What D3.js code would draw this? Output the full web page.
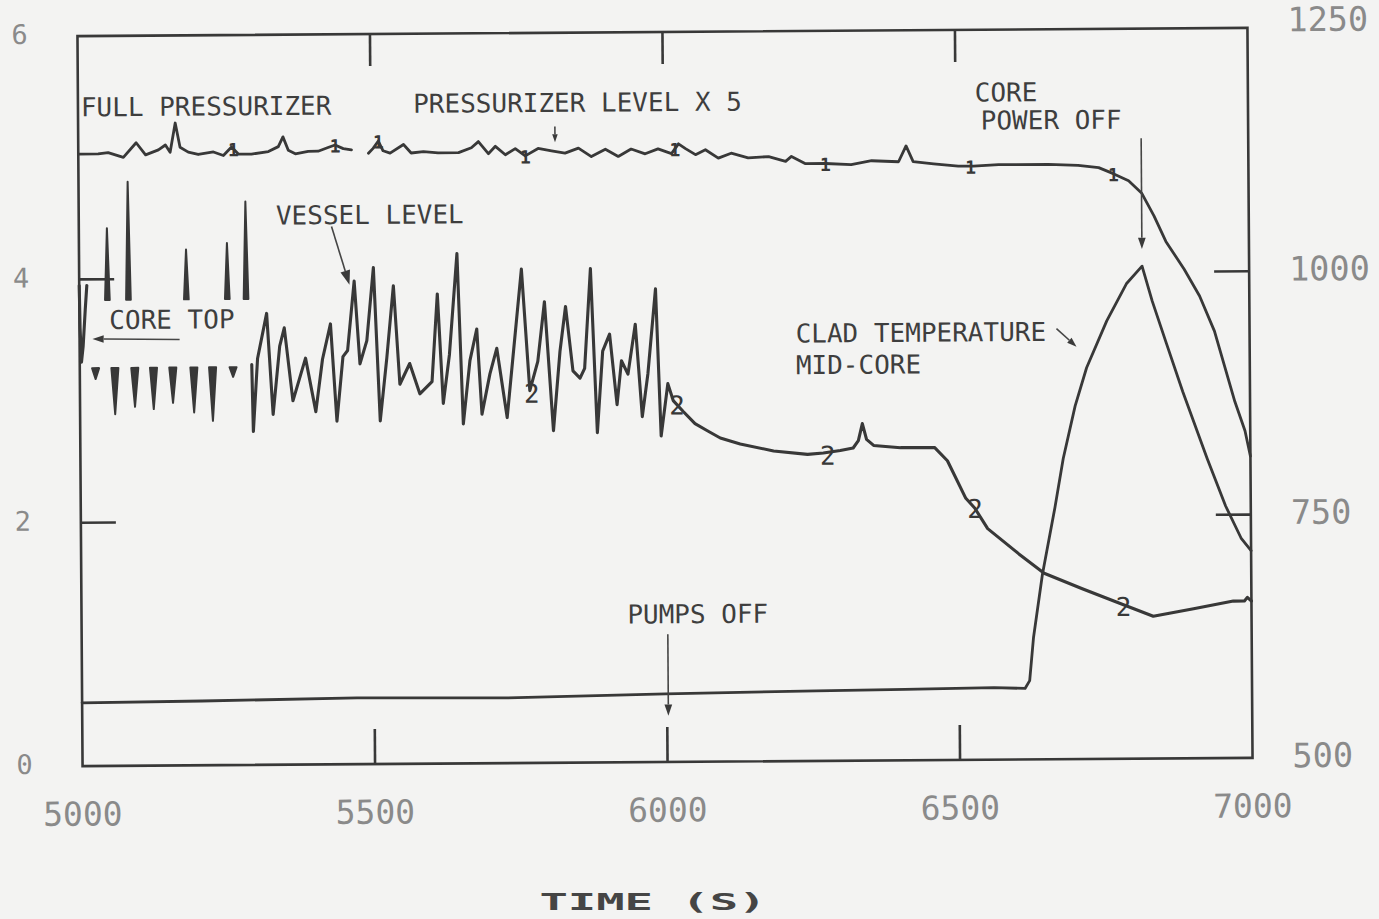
<!DOCTYPE html>
<html>
<head>
<meta charset="utf-8">
<script src="https://cdn.jsdelivr.net/npm/d3@7"></script>
<style>
  html, body { margin: 0; padding: 0; background: #f3f3f2; }
  svg { display: block; }
</style>
</head>
<body>
<script>
// ---- axis ticks ----
const timeTicks = [5000, 5500, 6000, 6500, 7000];
const levelTicks = [0, 2, 4, 6];
const tempTicks = [500, 750, 1000, 1250];

// ---- curve 1: pressurizer level x 5 (null = pen lift) ----
const pressTime = [5000, 5034, 5051, 5077, 5099, 5115, 5137, 5149, 5157, 5166, 5174, 5188, 5205, 5231, 5248, 5262,
  5274, 5296, 5325, 5342, 5350, 5359, 5371, 5393, 5410, 5427, 5439, 5453, 5467, 5480, 5496, 5504, 5513, 5521,
  5533, 5556, 5569, 5590, 5615, 5650, 5672, 5684, 5701, 5713, 5730, 5747, 5764, 5786, 5809, 5832, 5855, 5877,
  5901, 5923, 5945, 5969, 5991, 6014, 6026, 6038, 6055, 6072, 6094, 6116, 6145, 6180, 6209, 6219, 6243, 6277,
  6321, 6356, 6402, 6415, 6427, 6462, 6504, 6530, 6573, 6658, 6709, 6744, 6769, 6795, 6817, 6838, 6858, 6889,
  6915, 6940, 6957, 6974, 6991, 7000];
const pressLevel = [5.03, 5.03, 5.04, 5.00, 5.12, 5.02, 5.06, 5.10, 5.04, 5.28, 5.08, 5.04, 5.02, 5.04, 5.01, 5.08,
  5.02, 5.02, 5.04, 5.08, 5.16, 5.05, 5.02, 5.04, 5.04, 5.07, 5.09, 5.06, 5.05, null, 5.02, 5.06, 5.12, 5.04,
  5.02, 5.09, 5.02, 5.03, 5.02, 5.02, 5.06, 5.11, 5.01, 5.07, 5.00, 5.05, 4.99, 5.05, 5.03, 5.01, 5.05, 4.98,
  5.04, 4.98, 5.04, 5.00, 5.04, 5.00, 5.08, 5.04, 4.99, 5.03, 4.96, 5.00, 4.96, 4.97, 4.93, 4.97, 4.91, 4.91,
  4.90, 4.93, 4.92, 5.05, 4.92, 4.90, 4.88, 4.88, 4.89, 4.89, 4.88, 4.86, 4.81, 4.75, 4.65, 4.46, 4.25, 4.02,
  3.80, 3.51, 3.22, 2.93, 2.69, 2.48];

// ---- curve 2: vessel level (null = pen lift) ----
const vesselTime = [5000, 5001, 5003, 5006, 5010, 5013, 5016,
  5294, 5296, 5304, 5320, 5330, 5342, 5350, 5364, 5386, 5403, 5415, 5429, 5439, 5450, 5458, 5470, 5479, 5491,
  5503, 5513, 5525, 5537, 5547, 5564, 5581, 5602, 5612, 5621, 5632, 5646, 5655, 5667, 5679, 5687, 5701, 5713,
  5730, 5756, 5769, 5783, 5795, 5809, 5821, 5831, 5843, 5855, 5863, 5874, 5884, 5894, 5906, 5918, 5926, 5937,
  5950, 5961, 5971, 5985, 5993, 6005, 6014, 6031, 6051, 6072, 6094, 6128, 6185, 6243, 6270, 6299, 6321, 6330,
  6337, 6344, 6356, 6402, 6460, 6482, 6513, 6528, 6550, 6603, 6646, 6711, 6779, 6832, 6901, 6969, 6988, 6993, 7000];
const vesselLevel = [3.95, 3.60, 3.32, 3.45, 3.75, 3.95, null,
  3.29, 2.74, 3.34, 3.71, 2.88, 3.44, 3.59, 2.99, 3.34, 2.90, 3.33, 3.62, 2.82, 3.35, 3.40, 3.97, 3.29, 3.48,
  4.08, 2.82, 3.34, 3.93, 3.12, 3.29, 3.04, 3.14, 3.86, 2.96, 3.36, 4.19, 2.79, 3.31, 3.57, 2.87, 3.20, 3.41,
  2.84, 4.06, 3.06, 3.30, 3.79, 2.73, 3.38, 3.75, 3.22, 3.16, 3.24, 4.06, 2.71, 3.38, 3.52, 2.94, 3.30, 3.19,
  3.60, 2.84, 3.19, 3.89, 2.68, 3.11, 2.97, 2.88, 2.78, 2.72, 2.66, 2.61, 2.55, 2.52, 2.53, 2.55, 2.57, 2.63,
  2.77, 2.64, 2.59, 2.57, 2.57, 2.46, 2.15, 2.07, 1.90, 1.69, 1.53, 1.40, 1.27, 1.17, 1.23, 1.29, 1.29, 1.32, 1.29];

// vessel level excursions plotted only past the core-top band
const vesselUpBase = 3.83;
const vesselUpTime = [5048, 5084, 5183, 5253, 5285];
const vesselUpPeak = [4.42, 4.80, 4.24, 4.29, 4.63];
const vesselDownBase = 3.27;
const vesselDownTime = [5027, 5060, 5094, 5126, 5159, 5195, 5227, 5262];
const vesselDownTrough = [3.18, 2.89, 2.95, 2.93, 2.98, 2.90, 2.83, 3.19];

// ---- curve 3: clad temperature, mid-core (K, right axis) ----
const cladTime = [5000, 5205, 5470, 5718, 5998, 6255, 6407, 6559, 6612, 6620, 6627, 6643, 6665, 6680, 6701,
  6721, 6756, 6790, 6817, 6834, 6858, 6885, 6926, 6957, 6983, 7000];
const cladTemp = [565, 566, 568, 567, 570, 572, 573, 574, 573, 581, 625, 690, 758, 809, 863,
  902, 950, 988, 1006, 970, 926, 877, 808, 759, 726, 713];

// curve identification symbols
const pressMarkTime = [5265, 5439, 5513, 5764, 6020, 6277, 6525, 6769];
const vesselMarkTime = [5769, 6017, 6274, 6525, 6778];

// ---- annotations (time, level) ----
const labels = [
  { text: "FULL PRESSURIZER", t: 5005, v: 5.34 },
  { text: "PRESSURIZER LEVEL X 5", t: 5573, v: 5.35 },
  { text: "VESSEL LEVEL", t: 5337, v: 4.44 },
  { text: "CORE TOP", t: 5051, v: 3.59 },
  { text: "CLAD TEMPERATURE", t: 6224, v: 3.44 },
  { text: "MID-CORE", t: 6224, v: 3.18 },
  { text: "CORE", t: 6533, v: 5.41 },
  { text: "POWER OFF", t: 6543, v: 5.18 },
  { text: "PUMPS OFF", t: 5933, v: 1.14 }
];
const arrows = [
  { t0: 5815, v0: 5.23, t1: 5815, v1: 5.10, head: 5 },
  { t0: 5432, v0: 4.42, t1: 5462, v1: 3.94, head: 9 },
  { t0: 5171, v0: 3.50, t1: 5022, v1: 3.51, head: 7 },
  { t0: 6670, v0: 3.54, t1: 6704, v1: 3.39, head: 6 },
  { t0: 6817, v0: 5.10, t1: 6817, v1: 4.19, head: 7 },
  { t0: 6002, v0: 1.05, t1: 6002, v1: 0.38, head: 7 }
];

// ---- layout ----
const W = 1379, H = 919;
const L = 80, R = 1250, T = 32, B = 762;
const ink = "#383838";
const mono = "'DejaVu Sans Mono', 'Liberation Mono', monospace";

const x = d3.scaleLinear().domain([5000, 7000]).range([L, R]);
const yL = d3.scaleLinear().domain([0, 6]).range([B, T]);
const yR = d3.scaleLinear().domain([500, 1250]).range([B, T]);

const svg = d3.select("body").append("svg").attr("width", W).attr("height", H);
svg.append("rect").attr("width", W).attr("height", H).attr("fill", "#f3f3f2");

// the plotted sheet sits very slightly skewed on the page
const g = svg.append("g").attr("transform", `rotate(-0.4 ${(L + R) / 2} ${(T + B) / 2})`);

// frame
g.append("rect").attr("x", L).attr("y", T).attr("width", R - L).attr("height", B - T)
  .attr("fill", "none").attr("stroke", ink).attr("stroke-width", 2.6);

// ticks
const inner = timeTicks.filter(d => d > 5000 && d < 7000);
g.selectAll(".ttop").data(inner).join("line")
  .attr("x1", d => x(d)).attr("x2", d => x(d)).attr("y1", T).attr("y2", T + 32)
  .attr("stroke", ink).attr("stroke-width", 2.6);
g.selectAll(".tbot").data(inner).join("line")
  .attr("x1", d => x(d)).attr("x2", d => x(d)).attr("y1", B).attr("y2", B - 35)
  .attr("stroke", ink).attr("stroke-width", 2.6);
g.selectAll(".tleft").data(levelTicks.filter(d => d > 0 && d < 6)).join("line")
  .attr("x1", L).attr("x2", L + 35).attr("y1", d => yL(d)).attr("y2", d => yL(d))
  .attr("stroke", ink).attr("stroke-width", 2.6);
g.selectAll(".tright").data(tempTicks.filter(d => d > 500 && d < 1250)).join("line")
  .attr("x1", R).attr("x2", R - 35).attr("y1", d => yR(d)).attr("y2", d => yR(d))
  .attr("stroke", ink).attr("stroke-width", 2.6);

// tick labels
const tickColor = "#8a8a8a";
g.selectAll(".xl").data(timeTicks).join("text")
  .attr("x", d => x(d)).attr("y", B + 50)
  .attr("text-anchor", "middle").attr("dominant-baseline", "middle")
  .attr("font-family", mono).attr("font-size", 33).attr("fill", tickColor)
  .text(d => d);
g.selectAll(".yl").data(levelTicks).join("text")
  .attr("x", 22).attr("y", d => yL(d))
  .attr("text-anchor", "middle").attr("dominant-baseline", "middle")
  .attr("font-family", mono).attr("font-size", 27).attr("fill", tickColor)
  .text(d => d);
g.selectAll(".yr").data(tempTicks).join("text")
  .attr("x", 1290).attr("y", d => yR(d) - (d === 1250 ? 6 : 0))
  .attr("text-anchor", "start").attr("dominant-baseline", "middle")
  .attr("font-family", mono).attr("font-size", 33.5).attr("fill", tickColor)
  .text(d => d);

// curves
const lineL = d3.line().defined(d => d[1] != null).x(d => x(d[0])).y(d => yL(d[1]));
const lineR = d3.line().defined(d => d[1] != null).x(d => x(d[0])).y(d => yR(d[1]));
const pressData = d3.zip(pressTime, pressLevel);
const vesselData = d3.zip(vesselTime, vesselLevel);
const cladData = d3.zip(cladTime, cladTemp);

const curveStyle = (sel, w) => sel.attr("fill", "none").attr("stroke", ink)
  .attr("stroke-width", w).attr("stroke-linejoin", "round").attr("stroke-linecap", "round");

g.append("path").datum(pressData).attr("d", lineL).call(curveStyle, 2.8);
g.append("path").datum(vesselData).attr("d", lineL).call(curveStyle, 3.1);
g.append("path").datum(cladData).attr("d", lineR).call(curveStyle, 2.8);

// vessel level excursions (spikes)
const upHalf = 4, downHalf = 6;
g.selectAll(".up").data(d3.zip(vesselUpTime, vesselUpPeak)).join("path")
  .attr("d", d => `M${x(d[0] - upHalf)},${yL(vesselUpBase)}L${x(d[0])},${yL(d[1])}L${x(d[0] + upHalf)},${yL(vesselUpBase)}Z`)
  .attr("fill", ink).attr("stroke", ink).attr("stroke-width", 2).attr("stroke-linejoin", "round");
g.selectAll(".down").data(d3.zip(vesselDownTime, vesselDownTrough)).join("path")
  .attr("d", d => `M${x(d[0] - downHalf)},${yL(vesselDownBase)}L${x(d[0])},${yL(d[1])}L${x(d[0] + downHalf)},${yL(vesselDownBase)}Z`)
  .attr("fill", ink).attr("stroke", ink).attr("stroke-width", 2).attr("stroke-linejoin", "round");

// symbols placed on the curves
function valueAt(data, t) {
  const pts = data.filter(d => d[1] != null);
  const i = d3.bisector(d => d[0]).left(pts, t);
  if (i <= 0) return pts[0][1];
  if (i >= pts.length) return pts[pts.length - 1][1];
  const a = pts[i - 1], b = pts[i];
  return a[1] + (b[1] - a[1]) * (t - a[0]) / (b[0] - a[0]);
}
g.selectAll(".m1").data(pressMarkTime).join("text")
  .attr("x", d => x(d)).attr("y", d => yL(valueAt(pressData, d)) + 1)
  .attr("text-anchor", "middle").attr("dominant-baseline", "central")
  .attr("font-family", mono).attr("font-weight", "bold").attr("font-size", 18).attr("fill", ink)
  .text("1");
g.selectAll(".m2").data(vesselMarkTime).join("text")
  .attr("x", d => x(d) + 2).attr("y", d => yL(valueAt(vesselData, d)) + 3)
  .attr("text-anchor", "middle").attr("dominant-baseline", "central")
  .attr("font-family", mono).attr("font-size", 26).attr("fill", ink)
  .text("2");

// annotation text
g.selectAll(".ann").data(labels).join("text")
  .attr("x", d => x(d.t)).attr("y", d => yL(d.v))
  .attr("font-family", mono).attr("font-size", 26).attr("fill", "#3e3e3e")
  .text(d => d.text);

// annotation arrows
arrows.forEach(a => {
  const x0 = x(a.t0), y0 = yL(a.v0), x1 = x(a.t1), y1 = yL(a.v1);
  const ang = Math.atan2(y1 - y0, x1 - x0);
  const h = a.head, w = h * 0.55;
  const bx = x1 - h * 1.6 * Math.cos(ang), by = y1 - h * 1.6 * Math.sin(ang);
  g.append("line").attr("x1", x0).attr("y1", y0).attr("x2", bx).attr("y2", by)
    .attr("stroke", "#454545").attr("stroke-width", 1.6);
  g.append("path")
    .attr("d", `M${x1},${y1}L${bx + w * Math.sin(ang)},${by - w * Math.cos(ang)}L${bx - w * Math.sin(ang)},${by + w * Math.cos(ang)}Z`)
    .attr("fill", "#3a3a3a");
});

// axis title
svg.append("text")
  .attr("transform", "translate(653,910) scale(2.05,1)")
  .attr("text-anchor", "middle")
  .attr("font-family", mono).attr("font-weight", "bold").attr("font-size", 23)
  .attr("fill", "#454545")
  .text("TIME (S)");
</script>
</body>
</html>
